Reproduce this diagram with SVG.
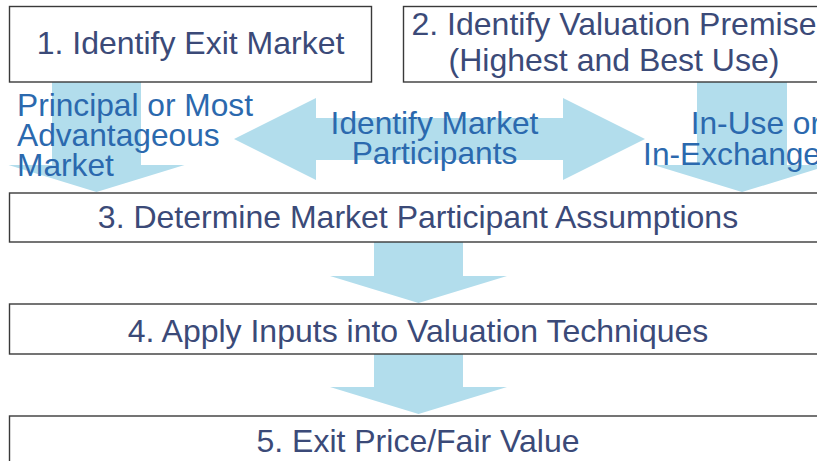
<svg xmlns="http://www.w3.org/2000/svg" width="817" height="461" viewBox="0 0 817 461">
  <style>
    .box { fill: #ffffff; stroke: #3a3a3a; stroke-width: 1.4; }
    .btxt { font-family: "Liberation Sans", Arial, sans-serif; font-size: 32px; fill: #3b4a78; text-anchor: middle; }
    .arrow { fill: #b2ddec; stroke: none; }
    .lbl { font-family: "Liberation Sans", Arial, sans-serif; font-size: 31.7px; fill: #2b69ae; }
  </style>
  <rect width="817" height="461" fill="#ffffff"/>
  <g id="connectors">
    <polygon class="arrow" points="52,82 141,82 141,165 184.5,165 96.5,192 8.5,165 52,165"/>
    <polygon class="arrow" points="697,82 787,82 787,165 830.5,165 742,192 653.5,165 697,165"/>
    <polygon class="arrow" points="234,139 316,98 316,118 563,118 563,98 645,139 563,180 563,160 316,160 316,180"/>
    <polygon class="arrow" points="374,242 463,242 463,276 507,276 418.5,303 330,276 374,276"/>
    <polygon class="arrow" points="374,354 463,354 463,387 507,387 418.5,414 330,387 374,387"/>
    <text class="lbl" x="17" y="116">Principal or Most</text>
    <text class="lbl" x="17" y="146">Advantageous</text>
    <text class="lbl" x="17" y="176">Market</text>
    <text class="lbl" x="434.5" y="134" text-anchor="middle">Identify Market</text>
    <text class="lbl" x="434.5" y="164" text-anchor="middle">Participants</text>
    <text class="lbl" x="821" y="134" text-anchor="end">In-Use or</text>
    <text class="lbl" x="821" y="165" text-anchor="end">In-Exchange</text>
  </g>
  <g id="node1">
    <rect class="box" x="9.5" y="6.5" width="362" height="75.5"/>
    <text class="btxt" x="190.5" y="54">1. Identify Exit Market</text>
  </g>
  <g id="node2">
    <rect class="box" x="403.5" y="6.5" width="430" height="75.5"/>
    <text class="btxt" x="614" y="35">2. Identify Valuation Premise</text>
    <text class="btxt" x="614" y="71">(Highest and Best Use)</text>
  </g>
  <g id="node3">
    <rect class="box" x="9.5" y="193" width="820" height="49"/>
    <text class="btxt" x="418" y="228">3. Determine Market Participant Assumptions</text>
  </g>
  <g id="node4">
    <rect class="box" x="9.5" y="304" width="820" height="50"/>
    <text class="btxt" x="418" y="342">4. Apply Inputs into Valuation Techniques</text>
  </g>
  <g id="node5">
    <rect class="box" x="9.5" y="416" width="820" height="60"/>
    <text class="btxt" x="418" y="452">5. Exit Price/Fair Value</text>
  </g>
</svg>
